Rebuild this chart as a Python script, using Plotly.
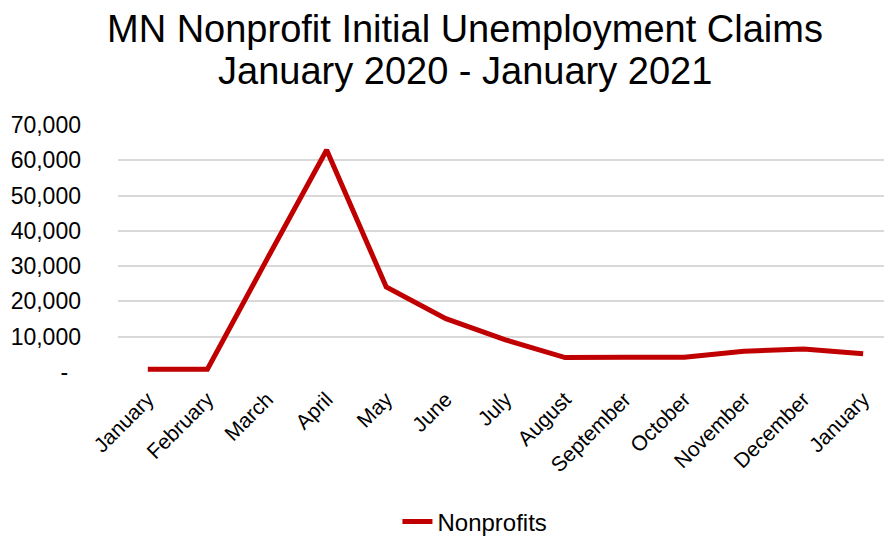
import plotly.graph_objects as go

# Monthly initial unemployment claims filed by Minnesota nonprofit employees
months = ["January", "February", "March", "April", "May", "June", "July",
          "August", "September", "October", "November", "December", "January"]
claims = [800, 800, 32000, 62900, 24100, 15100, 9100,
          4100, 4200, 4200, 5900, 6500, 5200]

y_ticks = [0, 10000, 20000, 30000, 40000, 50000, 60000, 70000]
y_labels = ["-\u2007", "10,000", "20,000", "30,000", "40,000", "50,000", "60,000", "70,000"]

title_lines = ["MN Nonprofit Initial Unemployment Claims", "January 2020 - January 2021"]

x_pos = list(range(len(months)))

font_family = "Liberation Sans, Arial, sans-serif"

fig = go.Figure()
fig.add_trace(go.Scatter(
    x=x_pos, y=claims, mode="lines", name="Nonprofits",
    line=dict(color="#C00000", width=5),
))

# plot area spans 125px..372px of the 537px canvas
top_px, bottom_px = 125, 372


def px_to_paper(y_px):
    return (bottom_px - y_px) / (bottom_px - top_px)


for text, y_mid in zip(title_lines, [29, 71]):
    fig.add_annotation(
        text=text, xref="paper", yref="paper",
        x=0.453, y=px_to_paper(y_mid), xanchor="center", yanchor="middle",
        showarrow=False, font=dict(family=font_family, size=38, color="#000000"),
    )

fig.update_layout(
    width=886, height=537,
    paper_bgcolor="white", plot_bgcolor="white",
    margin=dict(l=118, r=2, t=top_px, b=537 - bottom_px, autoexpand=False),
    font=dict(family=font_family, color="#000000"),
    showlegend=True,
    legend=dict(
        orientation="h", x=0.466, xanchor="center", y=px_to_paper(522), yanchor="middle",
        font=dict(family=font_family, size=24, color="#000000"),
    ),
    xaxis=dict(
        tickmode="array", tickvals=x_pos, ticktext=months,
        range=[-0.5, 12.35], tickangle=-45, automargin=False,
        showgrid=False, zeroline=False, showline=False,
        ticks="", ticklabelstandoff=10,
        tickfont=dict(size=21, color="#000000"),
    ),
    yaxis=dict(
        tickmode="array", tickvals=y_ticks, ticktext=y_labels,
        range=[0, 70000], showgrid=True, gridcolor="#D9D9D9", gridwidth=1.5,
        zeroline=False, showline=False, ticks="", automargin=False,
        ticklabelstandoff=36,
        tickfont=dict(size=23, color="#000000"),
    ),
)

fig.write_html("out.html")
